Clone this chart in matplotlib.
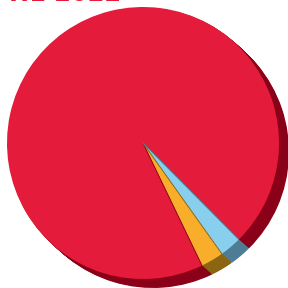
import numpy as np
import matplotlib
matplotlib.use('Agg')
import matplotlib.pyplot as plt

# slice shares (counter-clockwise from the start angle)
categories = ['Segment A', 'Segment B', 'Segment C']
shares = [94.7, 2.7, 2.6]
colors = ['#E41B3A', '#F8AE2B', '#88CFEE']
shadow_colors = ['#8A0018', '#8C6512', '#4E7C94']
title = 'H1 2022'

fig = plt.figure(figsize=(4, 4), dpi=72)
ax = fig.add_axes([0, 0, 1, 1])
ax.axis('off')

# 3d-ish extrusion: stack darker copies shifted down-right
depth = (0.074, -0.066)
n_layers = 12
for k in range(n_layers, 0, -1):
    ax.pie(shares, colors=shadow_colors, startangle=-45.2, radius=1.0,
           center=(depth[0] * k / n_layers, depth[1] * k / n_layers),
           wedgeprops=dict(linewidth=0), frame=False)

wedges, _ = ax.pie(shares, colors=colors, startangle=-45.2, radius=1.0,
                   center=(0, 0), wedgeprops=dict(linewidth=0), frame=False)

# thin dark seam on the closing edge of each slice
for w, sc in zip(wedges, shadow_colors):
    t = np.deg2rad(w.theta2)
    ax.plot([0, w.r * np.cos(t)], [0, w.r * np.sin(t)], color=sc, lw=0.9,
            solid_capstyle='butt')

ax.set_aspect('equal')
ax.set_xlim(-143 / 136, 145 / 136)
ax.set_ylim(-145 / 136, 143 / 136)

fig.text(9 / 288, 1 - 1 / 288, title, color='#E41B3A', fontsize=24,
         fontweight='bold', ha='left', va='baseline')

plt.savefig('out.png', dpi=72)
